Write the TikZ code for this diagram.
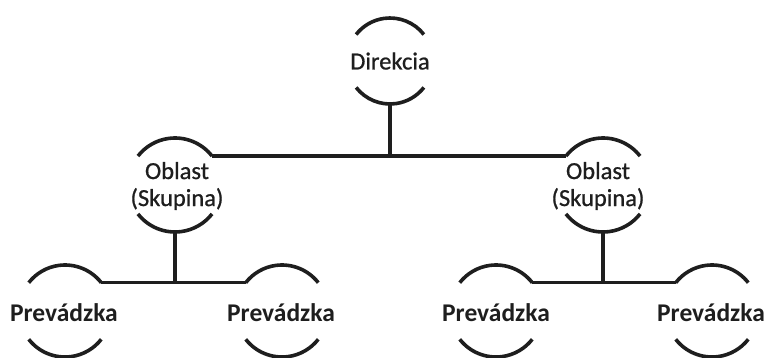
\documentclass[tikz,border=0pt]{standalone}
\usepackage{fontspec}
\setmainfont{Carlito}
\newfontfamily\regfont[FakeBold=0.8]{Carlito}
\usetikzlibrary{calc}
\definecolor{ink}{HTML}{1E1E1E}
\tikzset{
  lbl/.style={font=\regfont\fontsize{24.5}{27}\selectfont, text=ink, align=center, inner sep=0pt},
  lblb/.style={font=\fontsize{25.5}{27}\selectfont\bfseries, text=ink, inner sep=0pt},
  wire/.style={draw=ink, line width=3.6pt},
}
\begin{document}
\begin{tikzpicture}[x=1pt,y=1pt]
\useasboundingbox (0,0) rectangle (769,358);
% nodes
\node[lbl] (d) at (390,297) {Direkcia};
\node[lbl] (oL) at (177,172) {Oblast\\(Skupina)};
\node[lbl] (oR) at (598,172) {Oblast\\(Skupina)};
\node[lblb] (p1) at (64,45) {Prevádzka};
\node[lblb] (p2) at (281,45) {Prevádzka};
\node[lblb] (p3) at (496,45) {Prevádzka};
\node[lblb] (p4) at (711,45) {Prevádzka};
% circle centres
\coordinate (dc) at (390,297);
\coordinate (oLc) at (175,173);
\coordinate (oRc) at (603,173);
\coordinate (p1c) at (65,47);
\coordinate (p2c) at (282,47);
\coordinate (p3c) at (496,47);
\coordinate (p4c) at (712,47);
% arcs
\foreach \c/\r in {dc/43, oLc/47, oRc/47, p1c/46, p2c/46, p3c/46, p4c/46}{
  \draw[wire] ($(\c)+(38:\r)$) arc[start angle=38, end angle=142, radius=\r pt];
  \draw[wire] ($(\c)+(218:\r)$) arc[start angle=218, end angle=322, radius=\r pt];
}
% anchor coordinates
\coordinate (d-b) at ($(dc)+(270:43)$);
\coordinate (oL-tr) at ($(oLc)+(38:47)$);
\coordinate (oR-tl) at ($(oRc)+(142:47)$);
\coordinate (oL-b) at ($(oLc)+(270:47)$);
\coordinate (oR-b) at ($(oRc)+(270:47)$);
\coordinate (p1-tr) at ($(p1c)+(38:46)$);
\coordinate (p2-tl) at ($(p2c)+(142:46)$);
\coordinate (p3-tr) at ($(p3c)+(38:46)$);
\coordinate (p4-tl) at ($(p4c)+(142:46)$);
% connectors
\draw[wire] (oL-tr) -- (oR-tl);
\draw[wire] (d-b) -- (d-b |- oL-tr);
\draw[wire] (p1-tr) -- (p2-tl);
\draw[wire] (oL-b) -- (oL-b |- p1-tr);
\draw[wire] (p3-tr) -- (p4-tl);
\draw[wire] (oR-b) -- (oR-b |- p3-tr);
\end{tikzpicture}
\end{document}
